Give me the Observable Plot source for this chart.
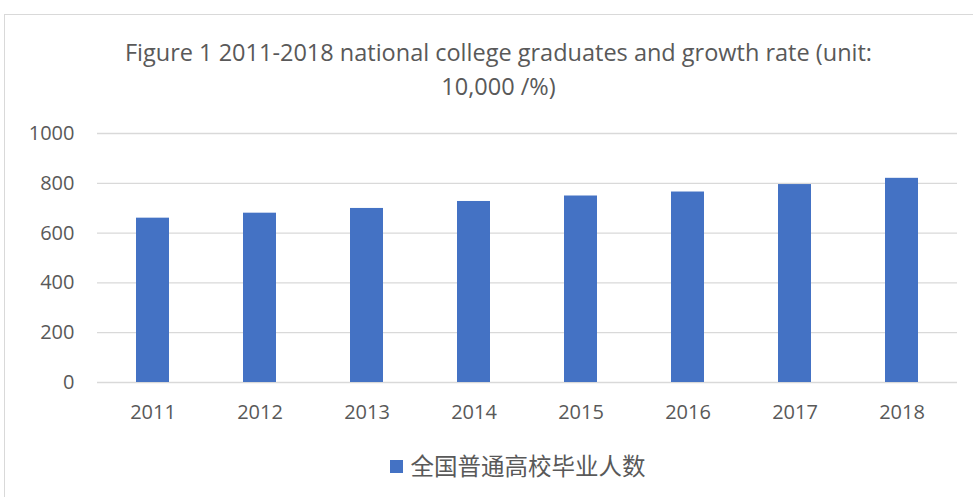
<!DOCTYPE html>
<html>
<head>
<meta charset="utf-8">
<script src="https://cdn.jsdelivr.net/npm/d3@7"></script>
<script src="https://cdn.jsdelivr.net/npm/@observablehq/plot@0.6"></script>
<style>
  html, body { margin: 0; padding: 0; background: #fff; }
  #wrap { position: relative; width: 973px; height: 497px; overflow: hidden; font-family: "Open Sans", "Noto Sans", sans-serif; color: #595959; }
  #frame { position: absolute; left: 4px; top: 14px; width: 980px; height: 500px; border: 1px solid #d9d9d9; box-sizing: border-box; }
  #title { position: absolute; left: 0; top: 35px; width: 997px; text-align: center; font-size: 23.5px; line-height: 34px; color: #595959; white-space: nowrap; }
  #chart { position: absolute; left: 0; top: 120px; }
  #legend { position: absolute; left: 0; top: 449px; width: 1035px; text-align: center; font-size: 23.5px; line-height: 32px; font-family: "Noto Sans CJK SC", sans-serif; color: #595959; white-space: nowrap; }
  #legend .sw { display: inline-block; width: 13px; height: 13px; background: #4472c4; margin-right: 8px; vertical-align: 2px; }
  #chart svg text { font-size: 20px; }
</style>
</head>
<body>
<div id="wrap">
  <div id="frame"></div>
  <div id="title">Figure 1 2011-2018 national college graduates and growth rate (unit:<br>10,000 /%)</div>
  <div id="chart"></div>
  <div id="legend"><span class="sw"></span>全国普通高校毕业人数</div>
</div>
<script>
const years = ["2011", "2012", "2013", "2014", "2015", "2016", "2017", "2018"];
const graduates = [660, 680, 699, 727, 749, 765, 795, 820];
const yTicks = [0, 200, 400, 600, 800, 1000];
const seriesName = "全国普通高校毕业人数";

const data = years.map((y, i) => ({year: y, value: graduates[i], series: seriesName}));

const chart = Plot.plot({
  width: 973,
  height: 320,
  marginLeft: 97,
  marginRight: 16,
  marginTop: 13,
  marginBottom: 58,
  style: {fontFamily: "'Open Sans', 'Noto Sans', sans-serif", fontSize: "20px", color: "#595959", background: "transparent"},
  x: {domain: years, paddingInner: 0.69, paddingOuter: 0.345, label: null},
  y: {domain: [0, 1000], label: null},
  marks: [
    Plot.ruleY(yTicks, {stroke: "#d9d9d9", strokeWidth: 1.3}),
    Plot.barY(data, {x: "year", y: "value", fill: "#4472c4"}),
    Plot.axisY({ticks: yTicks, tickFormat: d => String(d), tickSize: 0, tickPadding: 23, label: null, fill: "#595959"}),
    Plot.axisX({tickSize: 0, tickPadding: 22, label: null, fill: "#595959"})
  ]
});
document.getElementById("chart").appendChild(chart);
</script>
</body>
</html>
